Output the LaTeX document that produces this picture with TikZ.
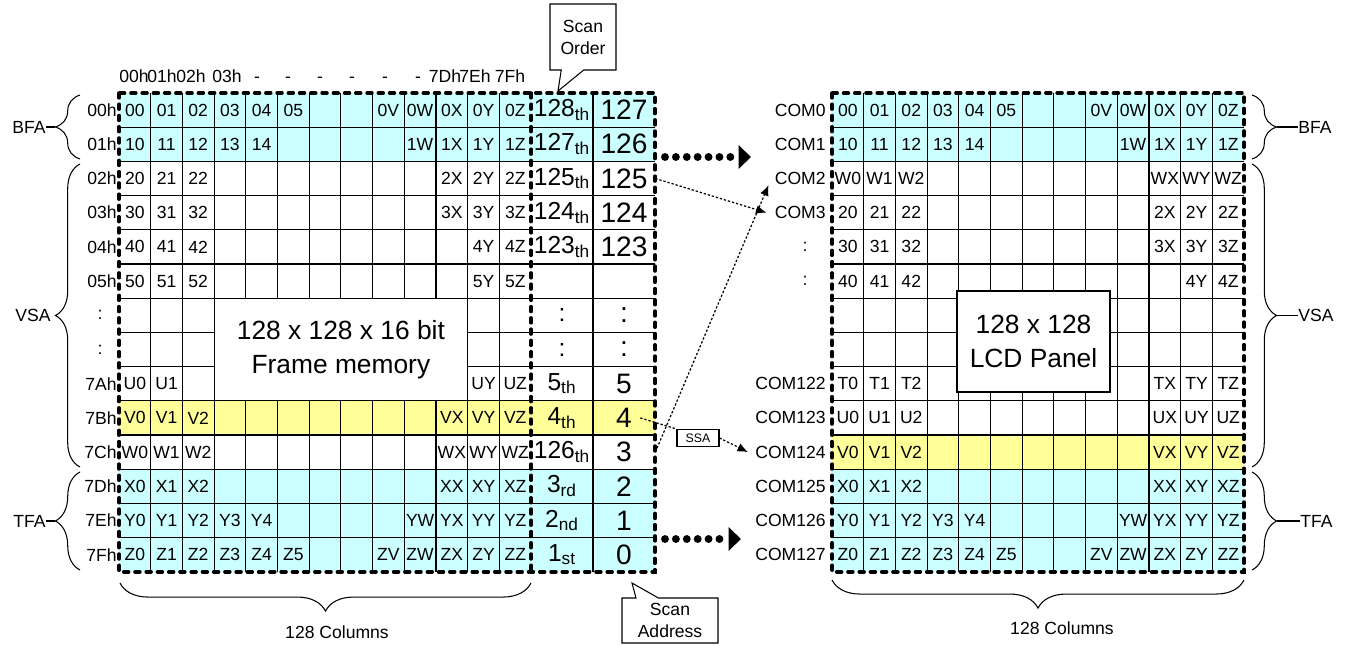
\documentclass[tikz,border=0pt]{standalone}
\usepackage{fontspec}
\setmainfont{Liberation Sans}
\usetikzlibrary{arrows.meta, positioning, shapes.callouts, decorations.pathreplacing}
\definecolor{rowcyan}{RGB}{204,255,255}
\definecolor{rowyellow}{RGB}{255,255,153}
\newcommand{\colw}{31.7}
\newcommand{\rowh}{34.2}
% labels of one memory row: prefix, left x, row, entries
\newcommand{\cellrow}[4]{%
  \foreach \celltxt [count=\cidx from 0] in {#4}
    \node[cell] (#1-#3-\cidx) at ({#2+(\cidx+0.5)*\colw},{93+(#3+0.5)*\rowh}) {\celltxt};}
\tikzset{
  cell/.style={font=\fontsize{10}{12}\selectfont, inner sep=0pt},
  rowlab/.style={font=\fontsize{10}{12}\selectfont, inner sep=0pt},
  gridline/.style={line width=0.6pt},
  bigdash/.style={line width=2pt, dash pattern=on 2.8pt off 3.6pt, line cap=round},
  bigdots/.style={line width=4.5pt, dash pattern=on 0pt off 6.2pt, line cap=round,
    -{Triangle[length=7pt,width=13pt]}},
  thinarrow/.style={line width=0.7pt, dash pattern=on 1.3pt off 1.1pt,
    -{Latex[length=6pt,width=5pt]}},
  bigtext/.style={font=\fontsize{15}{19.3}\selectfont, align=center, inner sep=0pt},
  scanord/.style={font=\fontsize{14}{17}\selectfont, inner sep=0pt},
  scanaddr/.style={font=\fontsize{16}{18}\selectfont, inner sep=0pt, minimum width=1.24cm},
  talk/.style={rectangle callout, draw, fill=white, line width=0.6pt, align=center,
    font=\fontsize{10}{12.5}\selectfont, inner sep=1pt, callout pointer width=0.45cm},
  sidecurly/.style={decorate, decoration={brace, amplitude=14pt}, line width=0.6pt},
  lowcurly/.style={decorate, decoration={brace, amplitude=16pt}, line width=0.6pt},
  sidelab/.style={font=\fontsize{10}{12}\selectfont, inner sep=0pt}
}

\begin{document}
\begin{tikzpicture}[x=0.02cm, y=-0.02cm]
  \useasboundingbox (0,0) rectangle (1350,646);

  % Row colours
  \fill[rowcyan]   (119,93) rectangle (655,161.4);
  \fill[rowyellow] (119,400.8) rectangle (655,435);
  \fill[rowcyan]   (119,469.2) rectangle (655,571.8);
  \fill[rowcyan]   (832,93) rectangle (1244.1,161.4);
  \fill[rowyellow] (832,435) rectangle (1244.1,469.2);
  \fill[rowcyan]   (832,469.2) rectangle (1244.1,571.8);

  % Grid lines
  \foreach \ri in {1,...,13} {
    \draw[gridline] (119,{93+\ri*\rowh}) -- (655,{93+\ri*\rowh});
    \draw[gridline] (832,{93+\ri*\rowh}) -- (1244.1,{93+\ri*\rowh});
  }
  \foreach \ci in {1,...,12} {
    \draw[gridline] ({119+\ci*\colw},93) -- ({119+\ci*\colw},571.8);
    \draw[gridline] ({832+\ci*\colw},93) -- ({832+\ci*\colw},571.8);
  }
  \draw[gridline] (593,93) -- (593,571.8);

  % Frame memory and panel boxes
  \filldraw[fill=white, gridline] (214.1,298.2) rectangle (467.7,400.8);
  \node[bigtext] (fmem) at (340.9,349.5) {128 x 128 x 16 bit\\Frame memory};
  \filldraw[fill=white, gridline] (957,291) rectangle (1110,392);
  \node[bigtext] (lcd) at (1033.5,341.5) {128 x 128\\LCD Panel};

  % Dashed outlines
  \draw[bigdash] (119,93) rectangle (655,571.8);
  \draw[bigdash] (531.1,93) -- (531.1,571.8);
  \draw[bigdash] (832,93) rectangle (1244.1,571.8);

  % Cells, frame memory
  \cellrow{L}{119}{0}{00,01,02,03,04,05,,,0V,0W,0X,0Y,0Z}
  \cellrow{L}{119}{1}{10,11,12,13,14,,,,,1W,1X,1Y,1Z}
  \cellrow{L}{119}{2}{20,21,22,,,,,,,,2X,2Y,2Z}
  \cellrow{L}{119}{3}{30,31,32,,,,,,,,3X,3Y,3Z}
  \cellrow{L}{119}{4}{40,41,42,,,,,,,,,4Y,4Z}
  \cellrow{L}{119}{5}{50,51,52,,,,,,,,,5Y,5Z}
  \cellrow{L}{119}{8}{U0,U1,,,,,,,,,,UY,UZ}
  \cellrow{L}{119}{9}{V0,V1,V2,,,,,,,,VX,VY,VZ}
  \cellrow{L}{119}{10}{W0,W1,W2,,,,,,,,WX,WY,WZ}
  \cellrow{L}{119}{11}{X0,X1,X2,,,,,,,,XX,XY,XZ}
  \cellrow{L}{119}{12}{Y0,Y1,Y2,Y3,Y4,,,,,YW,YX,YY,YZ}
  \cellrow{L}{119}{13}{Z0,Z1,Z2,Z3,Z4,Z5,,,ZV,ZW,ZX,ZY,ZZ}

  % Cells, LCD panel
  \cellrow{R}{832}{0}{00,01,02,03,04,05,,,0V,0W,0X,0Y,0Z}
  \cellrow{R}{832}{1}{10,11,12,13,14,,,,,1W,1X,1Y,1Z}
  \cellrow{R}{832}{2}{W0,W1,W2,,,,,,,,WX,WY,WZ}
  \cellrow{R}{832}{3}{20,21,22,,,,,,,,2X,2Y,2Z}
  \cellrow{R}{832}{4}{30,31,32,,,,,,,,3X,3Y,3Z}
  \cellrow{R}{832}{5}{40,41,42,,,,,,,,,4Y,4Z}
  \cellrow{R}{832}{8}{T0,T1,T2,,,,,,,,TX,TY,TZ}
  \cellrow{R}{832}{9}{U0,U1,U2,,,,,,,,UX,UY,UZ}
  \cellrow{R}{832}{10}{V0,V1,V2,,,,,,,,VX,VY,VZ}
  \cellrow{R}{832}{11}{X0,X1,X2,,,,,,,,XX,XY,XZ}
  \cellrow{R}{832}{12}{Y0,Y1,Y2,Y3,Y4,,,,,YW,YX,YY,YZ}
  \cellrow{R}{832}{13}{Z0,Z1,Z2,Z3,Z4,Z5,,,ZV,ZW,ZX,ZY,ZZ}

  % Scan order and scan address columns
  \foreach \txt [count=\ri from 0] in {128\textsubscript{th},127\textsubscript{th},125\textsubscript{th},
      124\textsubscript{th},123\textsubscript{th},,:,:,5\textsubscript{th},4\textsubscript{th},
      126\textsubscript{th},3\textsubscript{rd},2\textsubscript{nd},1\textsubscript{st}}
    \node[scanord] (L-o-\ri) at (562,{93+(\ri+0.5)*\rowh}) {\txt};
  \foreach \txt [count=\ri from 0] in {127,126,125,124,123,,:,:,5,4,3,2,1,0}
    \node[scanaddr] (L-a-\ri) at (624,{93+(\ri+0.5)*\rowh}) {\txt};

  % Row labels
  \foreach \lab/\ri in {00h/0,01h/1,02h/2,03h/3,04h/4,05h/5,7Ah/8,7Bh/9,7Ch/10,7Dh/11,7Eh/12,7Fh/13}
    \node[rowlab, anchor=east] (L-lab-\ri) at (117,{93+(\ri+0.5)*\rowh}) {\lab};
  \node[rowlab] (L-lab-6) at (100,{93+6.5*\rowh}) {:};
  \node[rowlab] (L-lab-7) at (100,{93+7.5*\rowh}) {:};
  \foreach \lab/\ri in {COM0/0,COM1/1,COM2/2,COM3/3,COM122/8,COM123/9,COM124/10,COM125/11,COM126/12,COM127/13}
    \node[rowlab, anchor=east] (R-lab-\ri) at (826,{93+(\ri+0.5)*\rowh}) {\lab};
  \node[rowlab] (R-lab-4) at (805,{93+4.5*\rowh}) {:};
  \node[rowlab] (R-lab-5) at (805,{93+5.5*\rowh}) {:};

  % Column addresses
  \foreach \lab/\xx [count=\ci from 0] in {00h/134,01h/162,02h/191,03h/227,-/257,-/288,-/320,
      -/352,-/385,-/418,7Dh/445,7Eh/475,7Fh/510}
    \node[cell, anchor=base] (col-\ci) at (\xx,82) {\lab};

  % Area braces, left
  \draw[sidecurly] (80,159) -- (80,95);
  \draw[sidecurly] (80,467) -- (80,164);
  \draw[sidecurly] (80,570) -- (80,472);
  \node[sidelab, anchor=east] (L-bfa) at (46,127) {BFA};
  \node[sidelab, anchor=east] (L-vsa) at (51,315.5) {VSA};
  \node[sidelab, anchor=east] (L-tfa) at (46,521) {TFA};
  \coordinate (L-bfa-tip) at (55.3,127);
  \coordinate (L-tfa-tip) at (55.3,521);
  \draw[gridline] (L-bfa) -- (L-bfa-tip);
  \draw[gridline] (L-tfa) -- (L-tfa-tip);

  % Area braces, right
  \draw[sidecurly] (1252,95) -- (1252,159);
  \draw[sidecurly] (1252,164) -- (1252,467);
  \draw[sidecurly] (1252,472) -- (1252,570);
  \node[sidelab, anchor=west] (R-bfa) at (1298,127) {BFA};
  \node[sidelab, anchor=west] (R-vsa) at (1298,315.5) {VSA};
  \node[sidelab, anchor=west] (R-tfa) at (1300,521) {TFA};
  \foreach \side/\yy in {bfa/127,vsa/315.5,tfa/521} {
    \coordinate (R-\side-tip) at (1276.7,\yy);
    \draw[gridline] (R-\side-tip) -- (R-\side);
  }

  % Column braces
  \draw[lowcurly] (531,583) -- (120,583);
  \node[sidelab] (L-cols) at (337,632) {128 Columns};
  \draw[lowcurly] (1244,580) -- (832,580);
  \node[sidelab] (R-cols) at (1062,628) {128 Columns};

  % Callouts
  \node[talk, minimum width=1.32cm, minimum height=1.32cm,
    callout absolute pointer={(558,91)}] (scanorder) at (583,37) {Scan\\Order};
  \node[talk, minimum width=1.92cm, minimum height=0.9cm,
    callout absolute pointer={(632,583)}] (scanaddress) at (670,620.5) {Scan\\Address};
  \node[draw, gridline, fill=white, font=\fontsize{7}{8}\selectfont, inner sep=0pt,
    minimum width=0.84cm, minimum height=0.34cm] (ssa) at (698,438) {SSA};

  % Mapping arrows
  \coordinate (out-top) at (665,157);
  \coordinate (in-top) at (751,157);
  \coordinate (out-bot) at (665,539);
  \coordinate (in-bot) at (741,539);
  \draw[bigdots] (out-top) -- (in-top);
  \draw[bigdots] (out-bot) -- (in-bot);
  \draw[thinarrow] (L-a-2.east) -- ([xshift=-0.16cm]R-lab-3.west);
  \draw[thinarrow] (L-a-10.east) -- ([xshift=-0.12cm]R-lab-2.south west);
  \draw[thinarrow, -] ([xshift=-0.3cm]L-a-9.east) -- (ssa.north west);
  \draw[thinarrow] (ssa.east) -- ([xshift=-0.14cm]R-lab-10.west);
\end{tikzpicture}
\end{document}
